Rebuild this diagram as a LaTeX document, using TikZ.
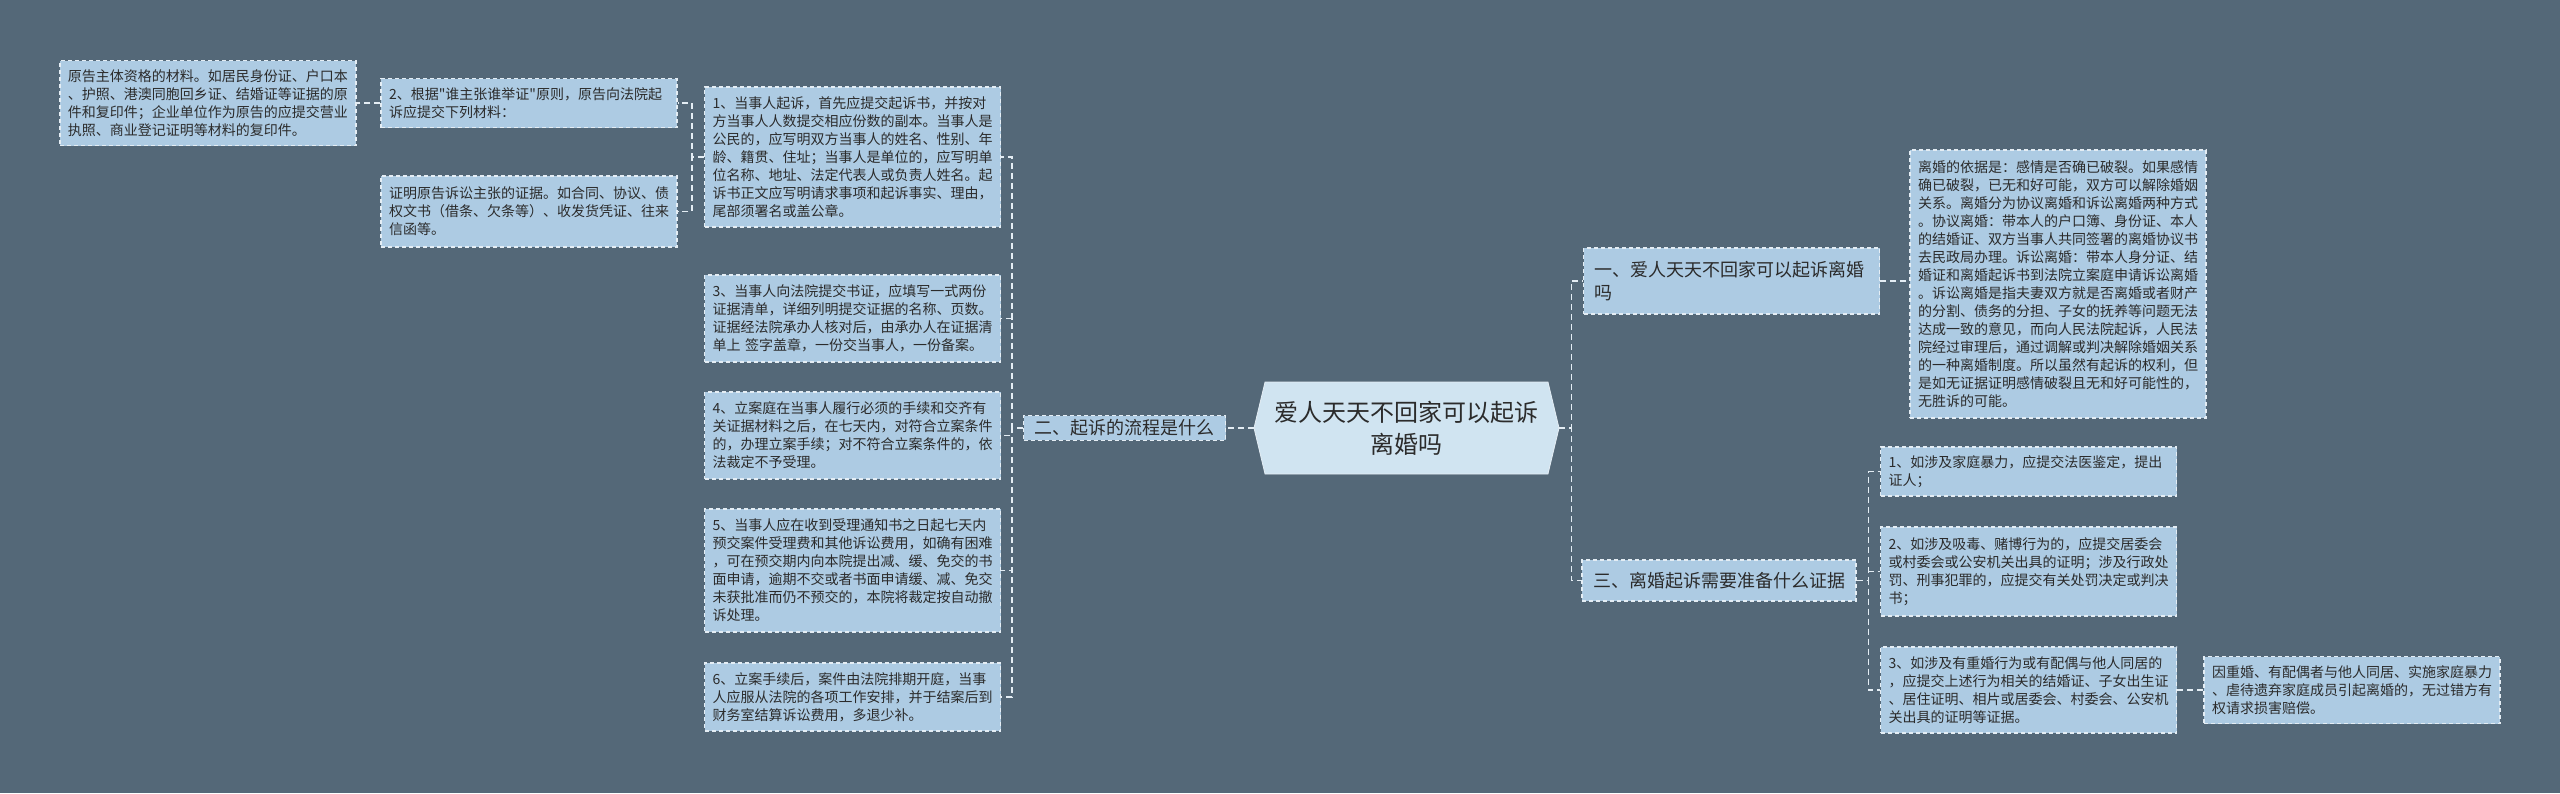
\documentclass[tikz,border=0pt]{standalone}
\usepackage{fontspec}
\setmainfont{Noto Sans CJK SC}[Ligatures=TeXOff]
\usetikzlibrary{shapes.symbols}

\definecolor{bgcol}{HTML}{546878}
\definecolor{boxfill}{HTML}{ADCBE3}
\definecolor{rootfill}{HTML}{D0E4F1}
\definecolor{edgecol}{HTML}{E4EDF4}
\definecolor{txtcol}{HTML}{2B2B2B}

\begin{document}
\begin{tikzpicture}[
    x=0.5pt, y=-0.5pt,
    boxbase/.style={draw=edgecol, dash pattern=on 2pt off 1.5pt, line width=0.6pt, fill=boxfill, text=txtcol, align=left},
    leaf/.style={boxbase, inner xsep=4pt, inner ysep=2pt, text width=140pt, font=\fontsize{7}{9}\selectfont},
    branch/.style={boxbase, inner xsep=5.5pt, inner ysep=2pt, font=\fontsize{9}{11.5}\selectfont},
    rootnd/.style={signal, signal to=west and east, signal pointer angle=153, fill=rootfill, draw=edgecol, line width=0.4pt,
        text=txtcol, align=center, minimum width=152.5pt, minimum height=46pt, font=\fontsize{12}{16}\selectfont},
    link/.style={draw=edgecol, line width=0.8pt, dash pattern=on 3pt off 2pt},
]

\fill[bgcol] (0,0) rectangle (2560,793);

% ── Centre ──
\node[rootnd] (root) at (1406.5,428) {爱人天天不回家可以起诉\\离婚吗};

% ── Left branch ──
\node[branch] (n2) at (1124.5,428) {二、起诉的流程是什么};

\node[leaf, minimum height=70pt] (st1) at (852.5,157) {1、当事人起诉，首先应提交起诉书，并按对\\方当事人人数提交相应份数的副本。当事人是\\公民的，应写明双方当事人的姓名、性别、年\\龄、籍贯、住址；当事人是单位的，应写明单\\位名称、地址、法定代表人或负责人姓名。起\\诉书正文应写明请求事项和起诉事实、理由，\\尾部须署名或盖公章。};
\node[leaf, minimum height=43.5pt] (st3) at (852.5,318.5) {3、当事人向法院提交书证，应填写一式两份\\证据清单，详细列明提交证据的名称、页数。\\证据经法院承办人核对后，由承办人在证据清\\单上 签字盖章，一份交当事人，一份备案。};
\node[leaf, minimum height=43.5pt] (st4) at (852.5,435.5) {4、立案庭在当事人履行必须的手续和交齐有\\关证据材料之后，在七天内，对符合立案条件\\的，办理立案手续；对不符合立案条件的，依\\法裁定不予受理。};
\node[leaf, minimum height=61.5pt] (st5) at (852.5,570.5) {5、当事人应在收到受理通知书之日起七天内\\预交案件受理费和其他诉讼费用，如确有困难\\，可在预交期内向本院提出减、缓、免交的书\\面申请，逾期不交或者书面申请缓、减、免交\\未获批准而仍不预交的，本院将裁定按自动撤\\诉处理。};
\node[leaf, minimum height=34pt] (st6) at (852.5,697) {6、立案手续后，案件由法院排期开庭，当事\\人应服从法院的各项工作安排，并于结案后到\\财务室结算诉讼费用，多退少补。};

\node[leaf, minimum height=24.5pt] (st2) at (529,103) {2、根据"谁主张谁举证"原则，原告向法院起\\诉应提交下列材料：};
\node[leaf, minimum height=35.5pt] (st2b) at (529,211.5) {证明原告诉讼主张的证据。如合同、协议、债\\权文书（借条、欠条等）、收发货凭证、往来\\信函等。};
\node[leaf, minimum height=42.5pt] (st2a) at (208,103) {原告主体资格的材料。如居民身份证、户口本\\、护照、港澳同胞回乡证、结婚证等证据的原\\件和复印件；企业单位作为原告的应提交营业\\执照、商业登记证明等材料的复印件。};

% ── Right branches ──
\node[branch, text width=137pt, minimum height=33pt] (n1) at (1731.5,281) {一、爱人天天不回家可以起诉离婚\\吗};
\node[leaf, minimum height=134pt] (basis) at (2058,284) {离婚的依据是：感情是否确已破裂。如果感情\\确已破裂，已无和好可能，双方可以解除婚姻\\关系。离婚分为协议离婚和诉讼离婚两种方式\\。协议离婚：带本人的户口簿、身份证、本人\\的结婚证、双方当事人共同签署的离婚协议书\\去民政局办理。诉讼离婚：带本人身分证、结\\婚证和离婚起诉书到法院立案庭申请诉讼离婚\\。诉讼离婚是指夫妻双方就是否离婚或者财产\\的分割、债务的分担、子女的抚养等问题无法\\达成一致的意见，而向人民法院起诉，人民法\\院经过审理后，通过调解或判决解除婚姻关系\\的一种离婚制度。所以虽然有起诉的权利，但\\是如无证据证明感情破裂且无和好可能性的，\\无胜诉的可能。};

\node[branch, minimum height=20.5pt] (n3) at (1719,580.5) {三、离婚起诉需要准备什么证据};
\node[leaf, minimum height=24.5pt] (ev1) at (2028.5,471.5) {1、如涉及家庭暴力，应提交法医鉴定，提出\\证人；};
\node[leaf, minimum height=44.5pt] (ev2) at (2028.5,571.5) {2、如涉及吸毒、赌博行为的，应提交居委会\\或村委会或公安机关出具的证明；涉及行政处\\罚、刑事犯罪的，应提交有关处罚决定或判决\\书；};
\node[leaf, minimum height=43pt] (ev3) at (2028.5,690) {3、如涉及有重婚行为或有配偶与他人同居的\\，应提交上述行为相关的结婚证、子女出生证\\、居住证明、相片或居委会、村委会、公安机\\关出具的证明等证据。};
\node[leaf, minimum height=33.5pt] (ev4) at (2352,690) {因重婚、有配偶者与他人同居、实施家庭暴力\\、虐待遗弃家庭成员引起离婚的，无过错方有\\权请求损害赔偿。};

% ── Connectors ──
\draw[link] (root.west) -- (n2.east);
\foreach \s in {st1,st3,st4,st5,st6}
    \draw[link] (n2.west) -- ++(-11,0) |- (\s.east);
\foreach \s in {st2,st2b}
    \draw[link] (st1.west) -- ++(-12,0) |- (\s.east);
\draw[link] (st2.west) -- (st2a.east);

\foreach \s in {n1,n3}
    \draw[link] (root.east) -- ++(12,0) |- (\s.west);
\draw[link] (n1.east) -- (n1.east -| basis.west);
\foreach \s in {ev1,ev2,ev3}
    \draw[link] (n3.east) -- ++(12,0) |- (\s.west);
\draw[link] (ev3.east) -- (ev4.west);

\end{tikzpicture}
\end{document}
